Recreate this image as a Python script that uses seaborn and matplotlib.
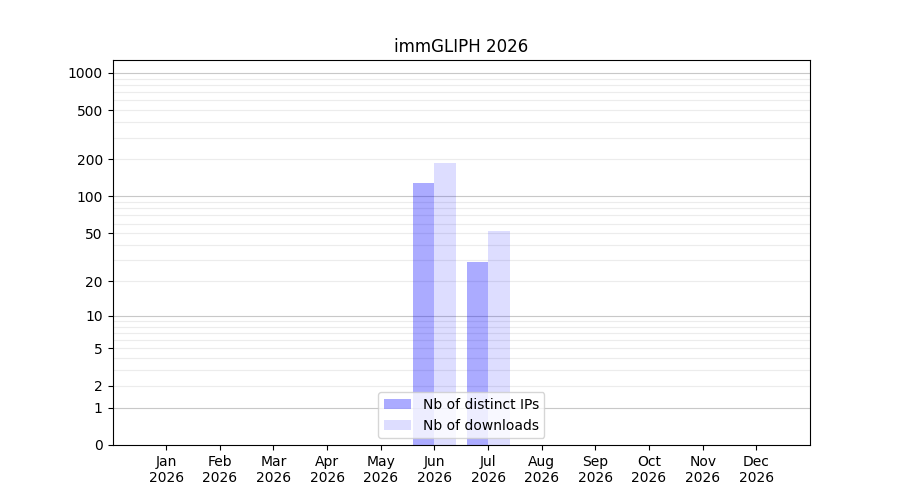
import numpy as np
import pandas as pd
import matplotlib
matplotlib.use("Agg")
import matplotlib.pyplot as plt
import seaborn as sns

# valeurs
months = ["Jan", "Feb", "Mar", "Apr", "May", "Jun", "Jul", "Aug", "Sep", "Oct", "Nov", "Dec"]
year = "2026"
distinct_ips = [0, 0, 0, 0, 0, 129, 29, 0, 0, 0, 0, 0]
downloads = [0, 0, 0, 0, 0, 187, 52, 0, 0, 0, 0, 0]
series_names = ["Nb of distinct IPs", "Nb of downloads"]
ytick_values = [0, 1, 2, 5, 10, 20, 50, 100, 200, 500, 1000]
alphas = [0.33, 0.135]

df = pd.DataFrame({
    "month": months * 2,
    "count": distinct_ips + downloads,
    "serie": [series_names[0]] * len(months) + [series_names[1]] * len(months),
})

def fwd(y):
    return np.log10(1 + np.clip(y, 0, None))

def inv(y):
    return 10 ** y - 1

fig, ax = plt.subplots(figsize=(9, 5), dpi=100)
ax.set_yscale("function", functions=(fwd, inv))

sns.barplot(data=df, x="month", y="count", hue="serie", order=months,
            palette=["blue", "blue"], width=0.8, saturation=1,
            errorbar=None, ax=ax, zorder=1, legend=False)

# bleu transparent, la grille se voit a travers
n = len(months)
for i, p in enumerate(ax.patches):
    p.set_facecolor((0, 0, 1, alphas[i // n]))
    p.set_edgecolor("none")

# grille : traits forts aux decades, traits clairs ailleurs
for k in [1, 10, 100]:
    for m in range(2, 10):
        ax.axhline(k * m, color="#ececec", lw=0.8, zorder=0.5)
for v in [1, 10, 100, 1000]:
    ax.axhline(v, color="#c8c8c8", lw=0.8, zorder=0.5)

ax.set_ylim(0, 1270)
ax.set_xlim(-1, 12)
ax.set_yticks(ytick_values)
ax.set_yticklabels([str(v) for v in ytick_values])
ax.yaxis.set_minor_locator(matplotlib.ticker.NullLocator())
ax.set_xticks(range(len(months)))
ax.set_xticklabels([m + "\n" + year for m in months])
ax.set_xlabel("")
ax.set_ylabel("")
ax.set_title("immGLIPH " + year)

handles = [matplotlib.patches.Patch(facecolor=(0, 0, 1, a)) for a in alphas]
ax.legend(handles, series_names, loc="lower center")

plt.savefig("out.png", dpi=100)
